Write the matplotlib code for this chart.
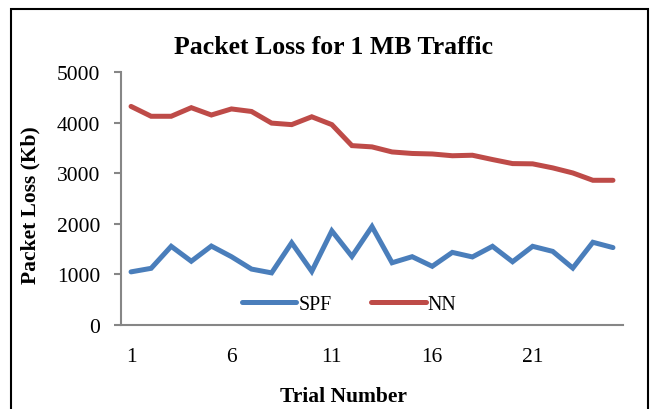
import matplotlib
matplotlib.use("Agg")
import matplotlib.pyplot as plt
from matplotlib.patches import Rectangle

trials = list(range(1, 26))
spf = [1050, 1120, 1555, 1260, 1560, 1350, 1105, 1030, 1625, 1060, 1860, 1355, 1945,
       1230, 1350, 1160, 1435, 1345, 1555, 1250, 1555, 1455, 1125, 1635, 1530]
nn = [4320, 4125, 4125, 4295, 4150, 4270, 4220, 3990, 3960, 4115, 3960, 3545, 3520,
      3420, 3390, 3380, 3345, 3355, 3270, 3190, 3185, 3105, 3005, 2860, 2860]
yticks = [0, 1000, 2000, 3000, 4000, 5000]
xticks = [1, 6, 11, 16, 21]

plt.rcParams['font.family'] = ['Liberation Serif', 'DejaVu Serif']

W, H = 654, 410
fig = plt.figure(figsize=(W / 100, H / 100), dpi=100)
fig.patch.set_facecolor('white')

fig.patches.append(Rectangle((11 / W, -0.1), (648 - 11) / W, 1.1 - 10 / H,
                             transform=fig.transFigure, fill=False,
                             edgecolor='black', linewidth=1.5))

ax = fig.add_axes([121 / W, 1 - 326 / H, (623 - 121) / W, (326 - 73) / H])
ax.plot(trials, spf, color='#4A7EBB', linewidth=3.6, solid_capstyle='round',
        solid_joinstyle='miter', label='SPF')
ax.plot(trials, nn, color='#BE4B48', linewidth=3.6, solid_capstyle='round',
        solid_joinstyle='miter', label='NN')

ax.set_xlim(0.5, 25.5)
ax.set_ylim(0, 5000)
ax.set_yticks(yticks)
ax.set_xticks(xticks)
ax.set_xticklabels([str(t) for t in xticks])
ax.tick_params(axis='y', length=5, width=1.5, color='#868686', pad=10, labelsize=15.5)
ax.tick_params(axis='x', length=0, pad=16, labelsize=15.5)
for s in ['top', 'right']:
    ax.spines[s].set_visible(False)
for s in ['left', 'bottom']:
    ax.spines[s].set_color('#868686')
    ax.spines[s].set_linewidth(1.5)

leg = ax.legend(loc='center', bbox_to_anchor=((349 - 121) / (623 - 121), (326 - 305) / (326 - 73)),
                ncol=2, frameon=False, fontsize=14.3, handlelength=2.75,
                handletextpad=0.1, columnspacing=2.0, borderpad=0)

fig.text(334 / W, 1 - 47 / H, 'Packet Loss for 1 MB Traffic', ha='center', va='center',
         fontsize=18.5, fontweight='bold')
fig.text(343 / W, 1 - 397 / H, 'Trial Number', ha='center', va='center',
         fontsize=15.5, fontweight='bold')
fig.text(30 / W, 1 - 205 / H, 'Packet Loss (Kb)', ha='center', va='center',
         rotation=90, fontsize=15.5, fontweight='bold')

fig.savefig('out.png', dpi=100)
